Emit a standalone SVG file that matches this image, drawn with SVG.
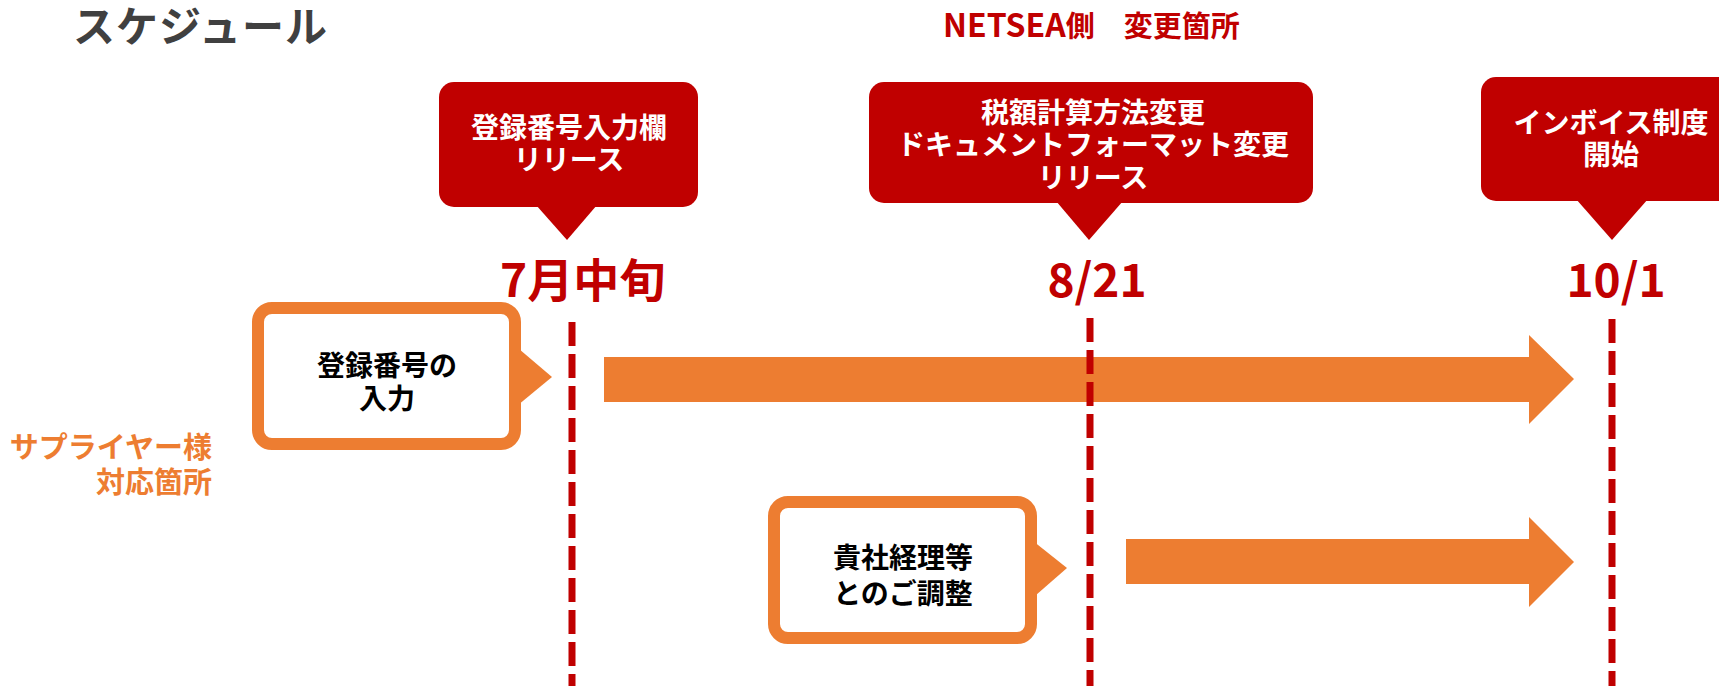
<svg xmlns="http://www.w3.org/2000/svg" width="1719" height="686" viewBox="0 0 1719 686">
<style>
text { font-family: "Noto Sans CJK JP", "Noto Sans", sans-serif; font-weight: bold; }
.callout { fill: #C00000; }
.ctext { fill: #FFFFFF; font-size: 28px; text-anchor: middle; }
.date { fill: #C00000; font-size: 46px; }
.box { fill: #FFFFFF; stroke: #ED7D31; stroke-width: 12; }
.ptr { fill: #ED7D31; }
.btext { fill: #000000; font-size: 28px; text-anchor: middle; }
.arrow { fill: #ED7D31; }
.dash { stroke: #C00000; stroke-width: 7; stroke-dasharray: 24 8; fill: none; }
</style>
<rect width="1719" height="686" fill="#FFFFFF"/>

<g id="title">
  <text x="73" y="42" font-size="42" letter-spacing="1" fill="#404040">スケジュール</text>
</g>
<g id="netsea-label">
  <text x="943" y="37" font-size="29" fill="#C00000"><tspan font-size="32">NETSEA</tspan>側　変更箇所</text>
</g>
<g id="supplier-label">
  <text font-size="29" fill="#ED7D31" text-anchor="end"><tspan x="212" y="458">サプライヤー様</tspan><tspan x="212" y="493">対応箇所</tspan></text>
</g>

<g id="connectors">
  <polygon class="arrow" points="604,357 1529,357 1529,335 1574,379 1529,424 1529,402 604,402"/>
  <polygon class="arrow" points="1126,539 1529,539 1529,517 1574,562 1529,607 1529,584 1126,584"/>
  <line class="dash" x1="572" y1="322" x2="572" y2="690"/>
  <line class="dash" x1="1090" y1="318" x2="1090" y2="690"/>
  <line class="dash" x1="1612" y1="319" x2="1612" y2="690"/>
</g>

<g id="callout-july">
  <rect class="callout" x="439" y="82" width="259" height="125" rx="15"/>
  <polygon class="callout" points="536,205 597,205 567,240"/>
  <text class="ctext"><tspan x="569" y="138">登録番号入力欄</tspan><tspan x="569" y="170">リリース</tspan></text>
</g>
<g id="callout-aug">
  <rect class="callout" x="869" y="82" width="444" height="121" rx="15"/>
  <polygon class="callout" points="1056,201 1123,201 1089,240"/>
  <text class="ctext"><tspan x="1093" y="123">税額計算方法変更</tspan><tspan x="1093" y="155">ドキュメントフォーマット変更</tspan><tspan x="1093" y="188">リリース</tspan></text>
</g>
<g id="callout-oct">
  <rect class="callout" x="1481" y="77" width="270" height="124" rx="15"/>
  <polygon class="callout" points="1576,199 1648,199 1612,240"/>
  <text class="ctext"><tspan x="1611" y="133">インボイス制度</tspan><tspan x="1611" y="165">開始</tspan></text>
</g>

<g id="date-july">
  <text class="date" x="500" y="297">7月中旬</text>
</g>
<g id="date-aug">
  <text class="date" x="1097" y="297" text-anchor="middle">8/21</text>
</g>
<g id="date-oct">
  <text class="date" x="1616" y="297" text-anchor="middle">10/1</text>
</g>

<g id="box-register">
  <polygon class="ptr" points="512,343 552,377 512,410"/>
  <rect class="box" x="258" y="308" width="257" height="136" rx="14"/>
  <text class="btext"><tspan x="387" y="376">登録番号の</tspan><tspan x="387" y="409">入力</tspan></text>
</g>
<g id="box-adjust">
  <polygon class="ptr" points="1028,537 1067,568 1028,602"/>
  <rect class="box" x="774" y="502" width="257" height="136" rx="14"/>
  <text class="btext"><tspan x="903" y="568">貴社経理等</tspan><tspan x="903" y="604">とのご調整</tspan></text>
</g>
</svg>
